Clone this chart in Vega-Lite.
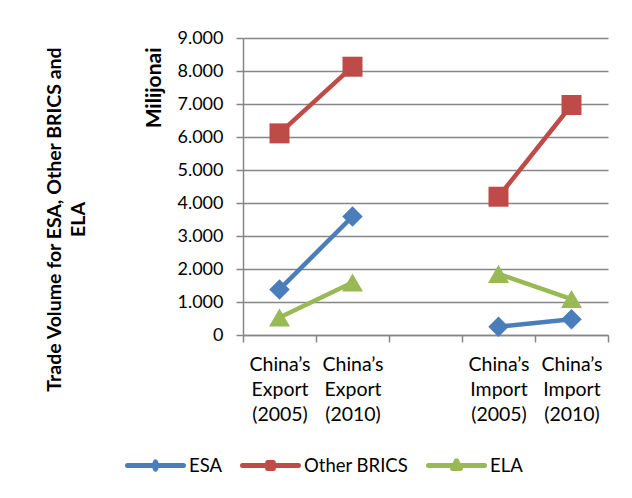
{
  "$schema": "https://vega.github.io/schema/vega-lite/v6.json",
  "width": 365,
  "height": 297,
  "autosize": "none",
  "padding": {"left": 243, "top": 38, "right": 24, "bottom": 163},
  "background": "white",
  "config": {
    "font": "Lato",
    "locale": {"number": {"decimal": ",", "thousands": ".", "grouping": [3], "currency": ["", " €"]}},
    "view": {"stroke": null}
  },
  "title": {
    "text": ["Trade Volume for ESA, Other BRICS and", "ELA"],
    "orient": "left",
    "anchor": "middle",
    "font": "Lato",
    "fontSize": 19.5,
    "fontWeight": "bold",
    "lineHeight": 24,
    "color": "#000000",
    "offset": 36,
    "dx": -33
  },
  "data": {
    "values": [
      {"cat": "China’s|Export|(2005)", "part": "Export", "series": "ESA", "value": 1380},
      {"cat": "China’s|Export|(2010)", "part": "Export", "series": "ESA", "value": 3590},
      {"cat": "China’s|Import|(2005)", "part": "Import", "series": "ESA", "value": 250},
      {"cat": "China’s|Import|(2010)", "part": "Import", "series": "ESA", "value": 480},
      {"cat": "China’s|Export|(2005)", "part": "Export", "series": "Other BRICS", "value": 6110},
      {"cat": "China’s|Export|(2010)", "part": "Export", "series": "Other BRICS", "value": 8130},
      {"cat": "China’s|Import|(2005)", "part": "Import", "series": "Other BRICS", "value": 4190},
      {"cat": "China’s|Import|(2010)", "part": "Import", "series": "Other BRICS", "value": 6970},
      {"cat": "China’s|Export|(2005)", "part": "Export", "series": "ELA", "value": 530},
      {"cat": "China’s|Export|(2010)", "part": "Export", "series": "ELA", "value": 1590},
      {"cat": "China’s|Import|(2005)", "part": "Import", "series": "ELA", "value": 1850},
      {"cat": "China’s|Import|(2010)", "part": "Import", "series": "ELA", "value": 1090}
    ]
  },
  "encoding": {
    "x": {
      "field": "cat",
      "type": "nominal",
      "scale": {
        "domain": ["China’s|Export|(2005)", "China’s|Export|(2010)", " ", "China’s|Import|(2005)", "China’s|Import|(2010)"],
        "paddingInner": 0,
        "paddingOuter": 0
      },
      "axis": {
        "title": null,
        "labelAngle": 0,
        "labelExpr": "split(datum.label, '|')",
        "labelFont": "Lato",
        "labelFontSize": 19.5,
        "labelColor": "#000000",
        "labelLineHeight": 25,
        "labelPadding": 13,
        "labelBaseline": "top",
        "tickBand": "extent",
        "tickSize": 7,
        "tickColor": "#868686",
        "tickWidth": 1.5,
        "domainColor": "#868686",
        "domainWidth": 1.5,
        "grid": false
      }
    },
    "y": {
      "field": "value",
      "type": "quantitative",
      "scale": {"domain": [0, 9000], "nice": false},
      "axis": {
        "title": "Milijonai",
        "titleFont": "Lato",
        "titleFontSize": 21,
        "titleFontWeight": "bold",
        "titleColor": "#000000",
        "titleAnchor": "end",
        "titleY": 9,
        "titlePadding": 12,
        "values": [0, 1000, 2000, 3000, 4000, 5000, 6000, 7000, 8000, 9000],
        "format": ",d",
        "labelFont": "Lato",
        "labelFontSize": 18,
        "labelColor": "#000000",
        "labelPadding": 13,
        "tickSize": 7,
        "tickColor": "#868686",
        "tickWidth": 1.5,
        "domainColor": "#868686",
        "domainWidth": 1.5,
        "gridColor": "#868686",
        "gridWidth": 1.5
      }
    },
    "color": {
      "field": "series",
      "type": "nominal",
      "scale": {"domain": ["ESA", "Other BRICS", "ELA"], "range": ["#4A7EBB", "#BE4B48", "#98B954"]},
      "legend": {
        "title": null,
        "orient": "none",
        "direction": "horizontal",
        "legendX": -118,
        "legendY": 397,
        "symbolSize": 3136,
        "symbolStrokeWidth": 5,
        "labelFont": "Lato",
        "labelFontSize": 18.5,
        "labelColor": "#000000",
        "labelOffset": 3,
        "columnPadding": 17,
        "encode": {
          "symbols": {
            "update": {
              "shape": {"signal": "datum.value === 'ESA' ? 'M-1,0H1M0,-0.13L0.05,0L0,0.13L-0.05,0Z' : datum.value === 'Other BRICS' ? 'M-1,0H1M-0.1,-0.11H0.1V0.11H-0.1Z' : 'M-1,0H1M0,-0.17L0.14,0.11H-0.14Z'"},
              "fill": {"signal": "scale('color', datum.value)"},
              "stroke": {"signal": "scale('color', datum.value)"},
              "strokeCap": {"value": "round"},
              "strokeJoin": {"value": "round"},
              "opacity": {"value": 1}
            }
          }
        }
      }
    }
  },
  "layer": [
    {
      "mark": {"type": "line", "strokeWidth": 4.5, "strokeJoin": "round"},
      "encoding": {"detail": {"field": "part", "type": "nominal"}}
    },
    {
      "transform": [{"filter": "datum.series === 'ESA'"}],
      "mark": {"type": "point", "shape": "diamond", "size": 420, "filled": true, "opacity": 1}
    },
    {
      "transform": [{"filter": "datum.series === 'Other BRICS'"}],
      "mark": {"type": "point", "shape": "square", "size": 400, "filled": true, "opacity": 1}
    },
    {
      "transform": [{"filter": "datum.series === 'ELA'"}],
      "mark": {"type": "point", "shape": "triangle-up", "size": 441, "filled": true, "opacity": 1}
    }
  ]
}
